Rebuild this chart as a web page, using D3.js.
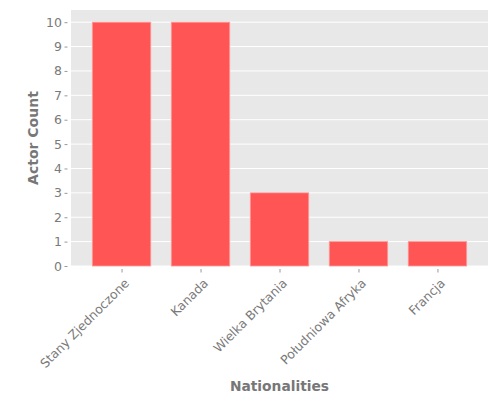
<!DOCTYPE html>
<html>
<head>
<meta charset="utf-8">
<script src="https://cdn.jsdelivr.net/npm/d3@7"></script>
<style>
  body { margin: 0; background: #fff; }
  text { font-family: "DejaVu Sans", sans-serif; }
</style>
</head>
<body>
<svg id="chart" width="500" height="400"></svg>
<script>
const nationalities = ["Stany Zjednoczone", "Kanada", "Wielka Brytania", "Południowa Afryka", "Francja"];
const actorCounts = [10, 10, 3, 1, 1];
const yTicks = [0, 1, 2, 3, 4, 5, 6, 7, 8, 9, 10];

const svg = d3.select("#chart");
const plotL = 71, plotR = 488, plotT = 10, plotB = 266;

const x = d3.scaleLinear().domain([-0.64, nationalities.length - 1 + 0.64]).range([plotL, plotR]);
const y = d3.scaleLinear().domain([0, 10.5]).range([plotB, plotT]);
const barW = x(0.74) - x(0);

// panel background
svg.append("rect")
    .attr("x", plotL).attr("y", plotT)
    .attr("width", plotR - plotL).attr("height", plotB - plotT)
    .attr("fill", "#e8e8e8");

// grid
svg.append("g")
    .selectAll("line")
    .data(yTicks)
    .join("line")
    .attr("x1", plotL).attr("x2", plotR)
    .attr("y1", d => y(d)).attr("y2", d => y(d))
    .attr("stroke", "#fff").attr("stroke-width", 1);

// bars
svg.append("g")
    .selectAll("rect")
    .data(actorCounts)
    .join("rect")
    .attr("x", (d, i) => x(i) - barW / 2)
    .attr("y", d => y(d))
    .attr("width", barW)
    .attr("height", d => y(0) - y(d))
    .attr("fill", "#ff5555")
    .attr("stroke", "#ff9a9a")
    .attr("stroke-width", 0.8);

// y axis
const yAxis = svg.append("g")
    .attr("transform", `translate(${plotL},0)`)
    .call(d3.axisLeft(y).tickValues(yTicks).tickSize(3.5).tickPadding(4));
yAxis.select(".domain").remove();
yAxis.selectAll(".tick line").attr("stroke", "#999").attr("x1", -3.5).attr("x2", -6.5);
yAxis.selectAll(".tick text").attr("x", -9).attr("fill", "#7a7a7a").style("font-size", "12.5px");

// x axis
const xAxis = svg.append("g")
    .attr("transform", `translate(0,${plotB})`)
    .call(d3.axisBottom(x).tickValues(d3.range(nationalities.length))
        .tickFormat(i => nationalities[i]).tickSize(3.5));
xAxis.select(".domain").remove();
xAxis.selectAll(".tick line").attr("stroke", "#999").attr("y1", 3).attr("y2", 6.5);
xAxis.selectAll(".tick text")
    .attr("fill", "#7a7a7a").style("font-size", "12.5px")
    .attr("text-anchor", "end")
    .attr("x", 0).attr("y", 0).attr("dy", 0)
    .attr("transform", "translate(8,18) rotate(-45)");

// axis titles
svg.append("text")
    .attr("x", (plotL + plotR) / 2).attr("y", 391)
    .attr("text-anchor", "middle")
    .attr("fill", "#777").style("font-size", "13.8px").style("font-weight", "bold")
    .text("Nationalities");

svg.append("text")
    .attr("transform", `translate(38,${(plotT + plotB) / 2}) rotate(-90)`)
    .attr("text-anchor", "middle")
    .attr("fill", "#777").style("font-size", "14px").style("font-weight", "bold")
    .text("Actor Count");
</script>
</body>
</html>
